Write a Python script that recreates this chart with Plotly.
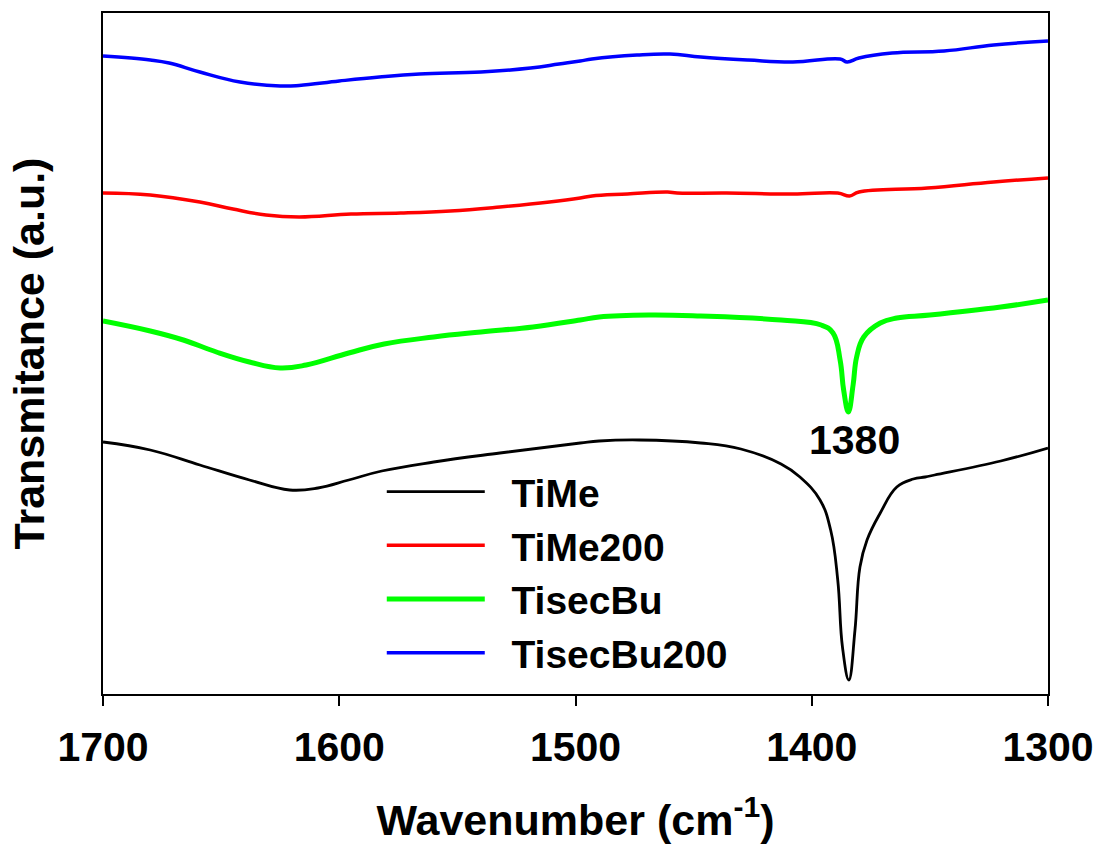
import plotly.graph_objects as go

# ---- data (wavenumber in cm^-1, transmittance in arbitrary offset units) ----
wn_timesecbu200 = [1700, 1680, 1672, 1659, 1642, 1625, 1617, 1600, 1583, 1566, 1540, 1519, 1507,
                   1498, 1493, 1474, 1460, 1447, 1427, 1408, 1388, 1385, 1380, 1366, 1344, 1323, 1300]
t_tisecbu200 = [6.38, 6.34, 6.31, 6.22, 6.12, 6.08, 6.085, 6.13, 6.17, 6.20, 6.22, 6.26, 6.30,
                6.33, 6.35, 6.39, 6.40, 6.37, 6.34, 6.32, 6.35, 6.32, 6.36, 6.41, 6.43, 6.49, 6.53]

wn_time200 = [1700, 1680, 1659, 1645, 1631, 1617, 1595, 1574, 1553, 1532, 1511, 1498, 1493,
              1478, 1461, 1457, 1436, 1408, 1389, 1384, 1380, 1351, 1323, 1300]
t_time200 = [5.01, 4.99, 4.92, 4.85, 4.79, 4.77, 4.80, 4.81, 4.83, 4.87, 4.92, 4.96, 4.98,
             5.00, 5.02, 5.01, 5.01, 5.00, 5.01, 4.98, 5.02, 5.06, 5.12, 5.16]

wn_tisecbu = [1700, 1680, 1666, 1652, 1638, 1625, 1614, 1596, 1581, 1560, 1540, 1518, 1498, 1490,
              1469, 1447, 1413, 1396, 1391, 1388, 1386.5, 1384.5, 1382.5, 1381, 1378, 1371, 1364,
              1350, 1320, 1300]
t_tisecbu = [3.73, 3.63, 3.54, 3.42, 3.32, 3.26, 3.29, 3.41, 3.50, 3.57, 3.62, 3.67, 3.74, 3.77,
             3.79, 3.78, 3.74, 3.69, 3.61, 3.34, 3.04, 2.82, 3.09, 3.37, 3.57, 3.71, 3.76,
             3.79, 3.87, 3.94]

wn_time = [1700, 1680, 1659, 1638, 1621, 1609, 1596, 1582, 1560, 1532, 1498, 1490, 1473, 1447,
           1430, 1413, 1405, 1396.5, 1392, 1389, 1387, 1384.3, 1381.7, 1379.6, 1376.6, 1371, 1364,
           1357, 1352, 1348, 1320, 1300]
t_time = [2.52, 2.44, 2.29, 2.14, 2.04, 2.06, 2.14, 2.23, 2.32, 2.41, 2.51, 2.53, 2.54, 2.51,
          2.45, 2.30, 2.17, 1.94, 1.64, 1.14, 0.47, 0.14, 0.64, 1.27, 1.54, 1.81, 2.07,
          2.15, 2.17, 2.19, 2.33, 2.46]

x_ticks = [1700, 1600, 1500, 1400, 1300]
peak_label = "1380"
peak_pos = (1382, 2.54)

FONT = "Arial, Liberation Sans, sans-serif"
GAP = "\u00a0\u00a0"

fig = go.Figure()
series = [
    ("TiMe", wn_time, t_time, "#000000", 2.8),
    ("TiMe200", wn_time200, t_time200, "#FF0000", 3.5),
    ("TisecBu", wn_tisecbu, t_tisecbu, "#00FF00", 5),
    ("TisecBu200", wn_timesecbu200, t_tisecbu200, "#0000FF", 3.5),
]
for name, xs, ys, col, w in series:
    fig.add_trace(go.Scatter(x=xs, y=ys, name=GAP + name, mode="lines",
                             line=dict(color=col, width=w, shape="spline", smoothing=1.2)))

fig.add_annotation(x=peak_pos[0], y=peak_pos[1], text=peak_label, showarrow=False,
                   font=dict(family=FONT, size=41, color="black", weight="bold"))

fig.update_layout(
    width=1096, height=847,
    margin=dict(l=103, r=48, t=13, b=153, autoexpand=False),
    plot_bgcolor="white", paper_bgcolor="white",
    showlegend=True,
    legend=dict(x=0.295, y=0.344, xanchor="left", yanchor="top",
                bgcolor="rgba(0,0,0,0)", itemwidth=98,
                font=dict(family=FONT, size=39, color="black", weight="bold")),
    xaxis=dict(range=[1700, 1300], tickvals=x_ticks, ticks="outside", ticklen=10, tickwidth=1.5,
               tickcolor="black", showline=True, mirror=True, linecolor="black", linewidth=1.5,
               showgrid=False, zeroline=False, automargin=False, ticklabelstandoff=6,
               tickfont=dict(family=FONT, size=41, color="black", weight="bold"),
               title=dict(text="Wavenumber (cm<sup>-1</sup>)", standoff=36,
                          font=dict(family=FONT, size=43, color="black", weight="bold"))),
    yaxis=dict(range=[0, 6.81], showticklabels=False, ticks="", showline=True, mirror=True,
               linecolor="black", linewidth=1.5, showgrid=False, zeroline=False, automargin=False,
               title=dict(text="Transmitance (a.u.)", standoff=43,
                          font=dict(family=FONT, size=43, color="black", weight="bold"))),
)

fig.write_html("out.html")
